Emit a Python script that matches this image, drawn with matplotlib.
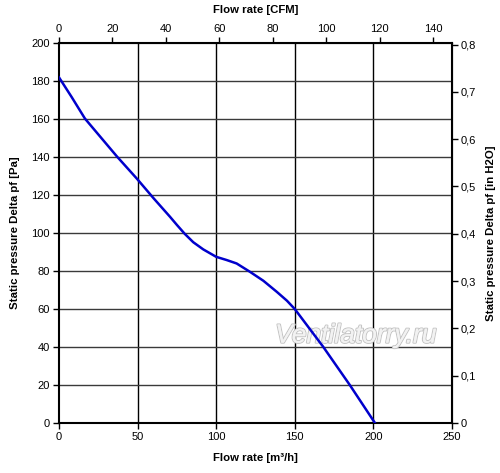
import matplotlib.pyplot as plt
from matplotlib.ticker import MultipleLocator, FuncFormatter
import matplotlib.patheffects as pe

# Fan curve: static pressure vs flow rate
flow_m3h = [0, 8, 16.5, 27, 37, 49.5, 60, 70.6, 75, 80, 85.4, 91.8, 100,
            106.7, 113, 121.5, 130, 138.5, 145, 150, 168, 185, 201]
pressure_pa = [182, 171.7, 160.3, 150, 140.2, 128.7, 118.5, 108.6, 104.3, 99.6,
               95.2, 91.4, 87.5, 85.8, 84, 79.6, 74.9, 69.1, 64.4, 60, 40.2, 20, 0]

M3H_TO_CFM = 0.588578
PA_TO_INH2O = 1 / 249.089

plt.rcParams['font.family'] = ['Liberation Sans', 'DejaVu Sans']

fig = plt.figure(figsize=(5, 4.73), dpi=100)
ax = fig.add_axes([0.118, 0.1057, 0.786, 0.803])

ax.plot(flow_m3h, pressure_pa, color='#0000cc', lw=1.8, zorder=3)

ax.set_xlim(0, 250)
ax.set_ylim(0, 200)
ax.xaxis.set_major_locator(MultipleLocator(50))
ax.yaxis.set_major_locator(MultipleLocator(20))

for x in range(50, 250, 50):
    ax.axvline(x, color='black', lw=1.0, zorder=1)
for y in range(20, 200, 20):
    ax.axhline(y, color='#3a3a3a', lw=1.0, zorder=1)

for s in ax.spines.values():
    s.set_linewidth(1.5)
ax.tick_params(direction='out', length=4, width=1, labelsize=8, pad=2.5)

ax.set_xlabel('Flow rate [m³/h]', fontsize=8.2, fontweight='bold', labelpad=8)
ax.set_ylabel('Static pressure Delta pf [Pa]', fontsize=8.2, fontweight='bold', labelpad=8)

top = ax.secondary_xaxis('top', functions=(lambda q: q * M3H_TO_CFM,
                                            lambda c: c / M3H_TO_CFM))
top.xaxis.set_major_locator(MultipleLocator(20))
top.tick_params(direction='out', length=4, width=1, labelsize=8, pad=2.5)
top.set_xlabel('Flow rate [CFM]', fontsize=8.2, fontweight='bold', labelpad=8)

right = ax.secondary_yaxis('right', functions=(lambda p: p * PA_TO_INH2O,
                                                lambda h: h / PA_TO_INH2O))
right.yaxis.set_major_locator(MultipleLocator(0.1))
right.yaxis.set_major_formatter(FuncFormatter(
    lambda v, pos: '0' if abs(v) < 1e-9 else f'{v:.1f}'.replace('.', ',')))
right.tick_params(direction='out', length=4, width=1, labelsize=8, pad=2.5)
right.set_ylabel('Static pressure Delta pf [in H2O]', fontsize=8.2,
                 fontweight='bold', labelpad=7)

ax.text(0.755, 0.23, 'Ventilatorry.ru', transform=ax.transAxes,
        fontsize=19, style='italic',
        family=['Liberation Sans Narrow', 'Liberation Sans'],
        color='#f2f2f2', ha='center', va='center', zorder=2,
        path_effects=[pe.withStroke(linewidth=1.5, foreground='#c4c4c4'),
                      pe.Normal()])

fig.savefig('out.png', dpi=100)
